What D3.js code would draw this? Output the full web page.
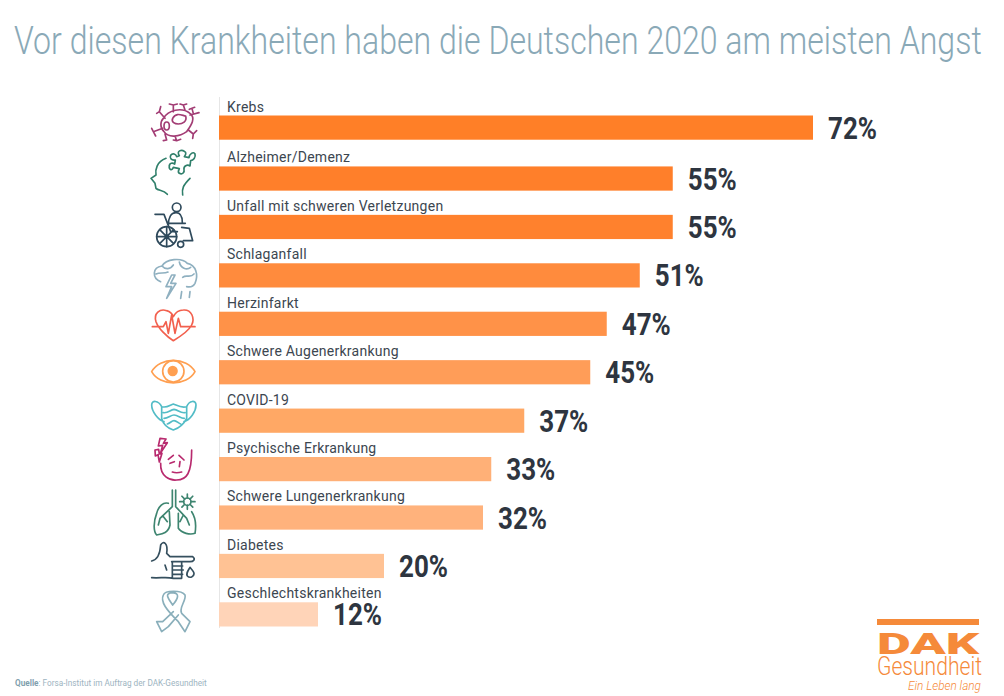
<!DOCTYPE html>
<html>
<head>
<meta charset="utf-8">
<script src="https://cdn.jsdelivr.net/npm/d3@7"></script>
<style>
  body { margin: 0; background: #fff; }
  text { font-family: Roboto, sans-serif; }
</style>
</head>
<body>
<svg width="1004" height="696"></svg>
<script>
const categories = ["Krebs", "Alzheimer/Demenz", "Unfall mit schweren Verletzungen", "Schlaganfall",
  "Herzinfarkt", "Schwere Augenerkrankung", "COVID-19", "Psychische Erkrankung",
  "Schwere Lungenerkrankung", "Diabetes", "Geschlechtskrankheiten"];
const values = [72, 55, 55, 51, 47, 45, 37, 33, 32, 20, 12];
const barColors = ["#ff7f27", "#ff7f2a", "#ff812d", "#ff8b3d", "#ff9248", "#ff9d58",
  "#ffa865", "#ffb077", "#ffb27c", "#ffc294", "#ffd4b8"];

const svg = d3.select("svg");

const x = d3.scaleLinear().domain([0, 72]).range([219, 813]);
const y = d3.scaleBand().domain(categories).range([118, 626.5]).paddingInner(0.5).paddingOuter(0);

// first row sits slightly higher than the regular spacing
const barTop = function(d, i) { return y(d) + (i === 0 ? -2.5 : 0); };

// squeeze a text to a target width, there is no condensed font installed
function fitWidth(selection, px, py, width) {
  selection.attr("transform", function() {
    return "translate(" + px + "," + py + ") scale(" + (width / this.getComputedTextLength()) + ",1)";
  });
}

// title
svg.append("text")
  .attr("font-size", 38).attr("font-weight", 300)
  .attr("fill", "#8aa9b7")
  .text("Vor diesen Krankheiten haben die Deutschen 2020 am meisten Angst")
  .call(fitWidth, 14, 54, 968);

// baseline
svg.append("line")
  .attr("x1", 219.5).attr("x2", 219.5).attr("y1", 97).attr("y2", 628)
  .attr("stroke", "#e6e6e6").attr("stroke-width", 1);

// bars
svg.selectAll("rect.bar")
  .data(categories)
  .enter().append("rect")
    .attr("class", "bar")
    .attr("x", x(0))
    .attr("y", barTop)
    .attr("width", function(d, i) { return x(values[i]) - x(0); })
    .attr("height", y.bandwidth())
    .attr("fill", function(d, i) { return barColors[i]; });

// category labels
svg.selectAll("text.cat")
  .data(categories)
  .enter().append("text")
    .attr("class", "cat")
    .attr("x", 227)
    .attr("y", function(d, i) { return barTop(d, i) - 4; })
    .attr("font-size", 14)
    .attr("letter-spacing", 0.25)
    .attr("fill", "#3c4650")
    .text(function(d) { return d; });

// value labels
svg.selectAll("text.val")
  .data(categories)
  .enter().append("text")
    .attr("class", "val")
    .attr("font-size", 31).attr("font-weight", 700)
    .attr("fill", "#2e3540")
    .text(function(d, i) { return values[i] + "%"; })
    .each(function(d, i) {
      d3.select(this).call(fitWidth, x(values[i]) + 15, barTop(d, i) + y.bandwidth() / 2 + 11, 49);
    });

/// icons /////

// line icons, coordinates are in a 3x local grid
function icon(originY, color, paths, extra) {
  let g = svg.append("g")
    .attr("transform", "translate(140," + originY + ") scale(" + (1 / 3) + ")")
    .attr("fill", "none").attr("stroke", color).attr("stroke-width", 5)
    .attr("stroke-linecap", "round").attr("stroke-linejoin", "round");
  g.append("path").attr("d", paths);
  if (extra) extra(g, color);
}

// Krebs
icon(90, "#a23c74",
  "M70 85C85 60 125 50 150 70C170 85 150 110 140 125C120 140 85 145 72 125C60 115 60 95 70 85Z" +
  "M98 85C108 66 125 76 137 78C142 95 127 102 115 102C105 102 93 97 98 85Z" +
  "M75 85L58 65L50 70M58 65L62 50M100 65L100 45L88 42M100 45L112 42M135 60L130 45L120 42M130 45L140 42" +
  "M150 75L177 68M160 71L156 55M148 58L164 52M145 120L160 132L170 122M160 132L158 145" +
  "M68 115L40 125L35 115M40 125L47 138M105 138L110 152L100 150M110 152L122 148M75 132L80 150L70 152",
  function(g) { g.append("ellipse").attr("cx", 80).attr("cy", 108).attr("rx", 8).attr("ry", 12); });

// Alzheimer
icon(90, "#2f7f6a",
  "M78 205C50 215 45 240 48 255L33 265L45 280L48 295C55 303 70 298 82 313M128 315C125 295 130 285 150 265" +
  "M110 200L118 197C108 182 125 178 133 184C142 188 135 197 133 200L147 203C148 192 160 183 165 192C168 202 160 212 152 212" +
  "L150 228C142 222 130 228 132 238C134 246 128 255 118 250C112 246 116 240 118 236L100 232C96 245 86 238 88 228" +
  "C88 218 98 218 104 222L106 210C94 212 88 204 92 196C98 188 108 192 110 200Z");

// Unfall
icon(90, "#2f4a5c",
  "M85 405C85 385 92 368 108 368C122 368 127 380 127 398M88 400L136 400M125 412L148 415L158 452L130 452" +
  "M45 373L72 373L92 425L112 425M80 410L80 470M50 440L110 440M59 419L101 461M59 461L101 419",
  function(g) {
    g.append("circle").attr("cx", 110).attr("cy", 352).attr("r", 13);
    g.append("circle").attr("cx", 80).attr("cy", 440).attr("r", 30);
    g.append("circle").attr("cx", 122).attr("cy", 463).attr("r", 9);
  });

// Schlaganfall
icon(90, "#8fb0c0",
  "M62 575C36 565 36 532 66 528C78 506 125 502 142 520C168 525 176 555 165 580C160 590 150 592 140 590" +
  "M66 528C76 540 92 538 100 525M118 516C122 535 140 542 152 532M48 552C60 546 72 552 84 546M128 562C140 552 150 566 162 552" +
  "M95 555L78 590L95 590L80 625L108 580L92 580L105 555ZM125 605L122 625M150 605L148 622");

// Herzinfarkt
icon(290, "#f2604e",
  "M100 152C80 140 55 115 48 95C40 70 60 55 80 62C90 65 97 72 100 80C105 70 115 60 130 60C155 58 165 85 155 105C145 125 120 140 100 152Z" +
  "M37 110L70 110L78 95L85 130L95 75L105 130L115 85L122 110L165 110");

// Augen
icon(290, "#ff9f50",
  "M35 245C60 200 140 200 165 245C140 290 60 290 35 245Z",
  function(g, color) {
    g.append("circle").attr("cx", 100).attr("cy", 244).attr("r", 32);
    g.append("circle").attr("cx", 98).attr("cy", 243).attr("r", 13).attr("fill", color);
  });

// COVID
icon(290, "#52bcc6",
  "M65 350C80 355 90 345 100 342C115 348 125 355 140 350L140 385C130 405 115 415 100 420C85 415 70 405 65 385Z" +
  "M65 350C55 330 35 330 35 345C35 365 55 390 72 395M140 350C148 330 168 330 168 345C168 365 150 390 132 395" +
  "M70 368C85 370 90 360 102 358C115 360 120 370 135 368M72 385C85 385 92 375 102 375C115 375 120 385 133 385M82 402C90 400 95 392 102 392C110 392 115 400 122 402");

// Psyche
icon(290, "#b82a6e",
  "M62 520C60 560 90 572 110 570C140 570 155 550 155 480M85 508L100 496M117 496L132 510M90 520L103 515" +
  "M120 515L118 530M97 546C105 549 115 549 125 546" +
  "M60 445L55 468L68 466L62 488L82 458L70 460L78 447ZM45 480L46 498L54 494L58 516L66 490L58 492L56 478Z");

// Lungen
icon(480, "#3e8570",
  "M97 30L97 80L60 115M107 30L107 80L140 115M85 70C70 65 55 80 50 100C40 125 40 155 50 165C65 162 85 160 90 135L88 95" +
  "M115 100L115 145C125 160 150 165 165 160C170 130 165 110 155 95M60 115L55 135M68 107L82 125M140 115L148 135M130 105L120 125",
  function(g) {
    g.append("circle").attr("cx", 142).attr("cy", 65).attr("r", 11);
    g.append("path")
      .attr("d", d3.range(8).map(function(i) {
        let a = i * Math.PI / 4;
        return "M" + (142 + 11 * Math.cos(a)) + " " + (65 + 11 * Math.sin(a)) +
               "L" + (142 + 23 * Math.cos(a)) + " " + (65 + 23 * Math.sin(a));
      }).join(""));
  });

// Diabetes
icon(480, "#36505f",
  "M35 243C50 240 60 225 62 195C70 180 85 190 80 220L90 230L158 230C168 238 160 245 150 245L95 245" +
  "M75 255L80 270M35 293C60 295 80 290 100 295L125 295M97 245L97 295M125 245L125 295M97 258L128 258M97 270L130 270M97 283L128 283" +
  "M150 262C142 275 138 280 142 288C150 296 162 290 162 280C162 275 155 268 150 262Z");

// Geschlechtskrankheiten
icon(480, "#8aafbb",
  "M98 375C80 350 75 340 98 338C120 340 115 355 98 375M70 345C60 365 80 390 115 425L135 455L150 425L125 400C115 385 140 360 135 345C125 330 75 330 70 345Z" +
  "M100 395L68 425L50 425L65 455L85 440L115 405");

/// footer /////

let source = svg.append("text")
  .attr("font-size", 8.5)
  .attr("fill", "#9db4bf");
source.append("tspan").attr("font-weight", 700).attr("fill", "#7f9fae").text("Quelle");
source.append("tspan").text(": Forsa-Institut im Auftrag der DAK-Gesundheit");
source.call(fitWidth, 15, 686, 192);

// logo
svg.append("rect")
  .attr("x", 877).attr("y", 619).attr("width", 102).attr("height", 6)
  .attr("fill", "#f58a3a");
svg.append("text")
  .attr("font-size", 30).attr("font-weight", 900)
  .attr("fill", "#f58a3a")
  .text("DAK")
  .call(fitWidth, 877, 653.5, 102);
svg.append("text")
  .attr("font-size", 25).attr("font-weight", 300)
  .attr("fill", "#f58a3a")
  .text("Gesundheit")
  .call(fitWidth, 877, 675, 105);
svg.append("text")
  .attr("font-size", 12).attr("font-style", "italic").attr("font-weight", 300)
  .attr("fill", "#f58a3a")
  .text("Ein Leben lang")
  .call(fitWidth, 908, 690, 73);
</script>
</body>
</html>
